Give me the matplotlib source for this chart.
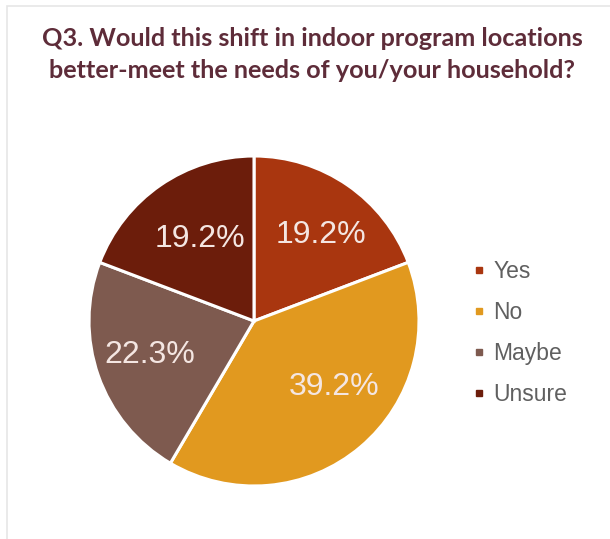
import matplotlib
matplotlib.use("Agg")
import matplotlib.pyplot as plt
from matplotlib.lines import Line2D
from matplotlib.patches import Rectangle

# Survey responses
categories = ["Yes", "No", "Maybe", "Unsure"]
shares = [19.2, 39.2, 22.3, 19.2]
colors = ["#A9360F", "#E1991F", "#7E5A4F", "#6C1D0B"]
title_lines = ["Q3. Would this shift in indoor program locations",
               "better-meet the needs of you/your household?"]

W, H = 610, 539
fig = plt.figure(figsize=(W / 100, H / 100), dpi=100)
fig.patch.set_facecolor("white")

# light card frame
fig.add_artist(Rectangle((7 / W, -0.01), 1.02, 1 - 6 / H + 0.01, transform=fig.transFigure,
                         facecolor="none", edgecolor="#e6e6e6", linewidth=1.2))

# pie axes: centre (254, 321) px, radius 165 px
cx, cy, r = 254, 321, 165
ax = fig.add_axes([(cx - r) / W, (H - cy - r) / H, 2 * r / W, 2 * r / H])
wedges, _, autotexts = ax.pie(
    shares, colors=colors, startangle=90, counterclock=False,
    autopct=lambda p: "", pctdistance=0.63, radius=1.0,
    wedgeprops=dict(edgecolor="white", linewidth=2.2),
)
# small label nudges (axes units) for the percentage texts
nudges = [(0.05, 0.00), (0.08, 0.08), (-0.04, 0.00), (0.03, -0.02)]
for t, v, (dx, dy) in zip(autotexts, shares, nudges):
    x, y = t.get_position()
    t.set_position((x + dx, y + dy))
    t.set_text(f"{v:.1f}%")
    t.set_color("#F4E6E2")
    t.set_fontsize(23)
    t.set_fontfamily("Liberation Sans")
ax.set_xlim(-1.0, 1.0)
ax.set_ylim(-1.0, 1.0)
ax.set_aspect("equal")
ax.axis("off")

# title
for i, line in enumerate(title_lines):
    fig.text(312 / W, 1 - (39 + 32 * i) / H, line, ha="center", va="center",
             fontsize=18.2, fontweight="bold", family="Lato", color="#5E2C39")

# legend
handles = [Line2D([], [], marker="s", linestyle="none", markersize=4,
                  markerfacecolor=c, markeredgecolor=c) for c in colors]
fig.legend(handles, categories, loc="center left",
           bbox_to_anchor=(453 / W, 1 - 333 / H), frameon=False,
           prop={"family": "Liberation Sans", "size": 16.5},
           labelcolor="#606060", labelspacing=0.79, handlelength=0.5,
           handletextpad=0.35)

fig.savefig("out.png", dpi=100, facecolor="white")
